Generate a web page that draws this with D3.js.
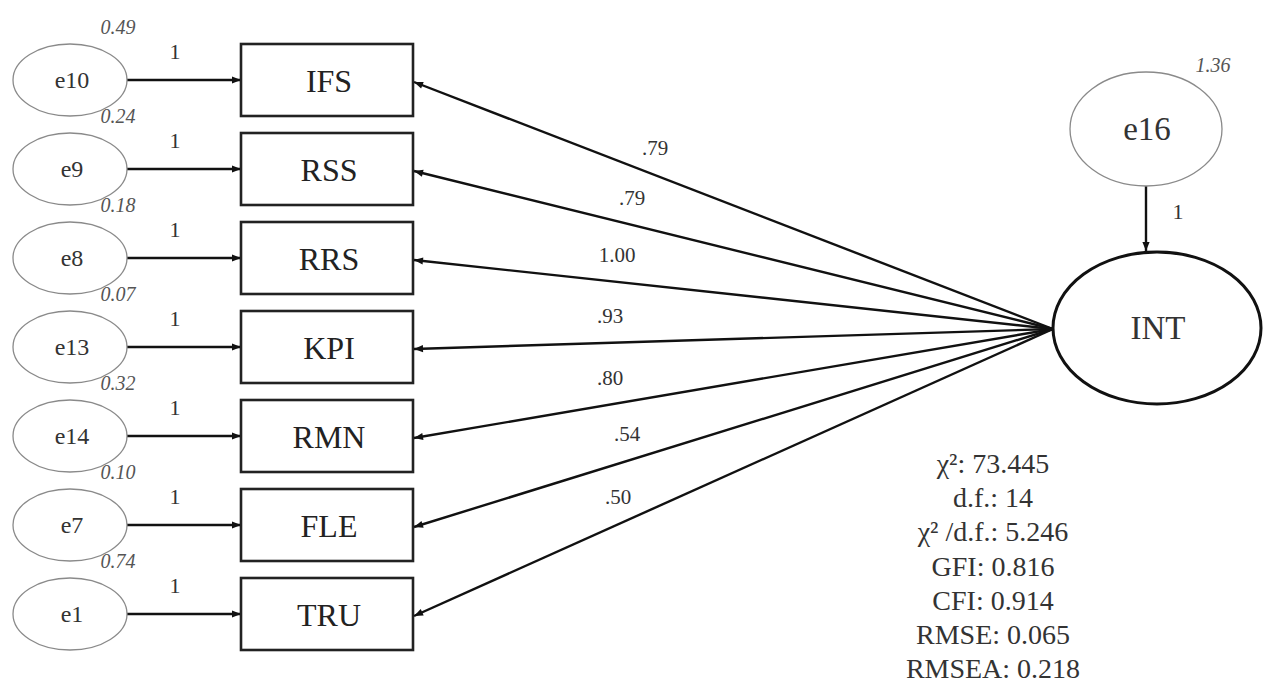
<!DOCTYPE html>
<html><head><meta charset="utf-8">
<script src="https://cdn.jsdelivr.net/npm/d3@7/dist/d3.min.js"></script>
<style>
html,body{margin:0;padding:0;background:#fff;}
svg{display:block;}
svg text{font-family:"Liberation Serif",serif;}
</style></head>
<body><svg id="c" width="1263" height="691"></svg>
<script>
// ---- data ----
const indicators = ["IFS","RSS","RRS","KPI","RMN","FLE","TRU"];
const errorNames = ["e10","e9","e8","e13","e14","e7","e1"];
const errorVariances = ["0.49","0.24","0.18","0.07","0.32","0.10","0.74"];
const errorPaths = ["1","1","1","1","1","1","1"];
const loadings = [".79",".79","1.00",".93",".80",".54",".50"];
const latentName = "INT";
const latentError = "e16";
const latentErrorVariance = "1.36";
const latentErrorPath = "1";
const fitStats = ["χ²: 73.445","d.f.: 14","χ² /d.f.: 5.246","GFI: 0.816","CFI: 0.914","RMSE: 0.065","RMSEA: 0.218"];

// ---- layout ----
const FONT = "Liberation Serif";
const svg = d3.select("#c");
const y = d3.scalePoint().domain(indicators).range([80, 614]);
const boxX0 = 241, boxW = 172, boxH = 72;
const eCx = 70, eRx = 57, eRy = 36;
const INT = {cx:1157, cy:328, rx:104, ry:76};
const E16 = {cx:1146, cy:129, rx:76, ry:57};

const defs = svg.append("defs");
defs.append("marker").attr("id","ah").attr("viewBox","0 -5 10 10")
  .attr("refX",10).attr("refY",0).attr("markerWidth",11).attr("markerHeight",9)
  .attr("markerUnits","userSpaceOnUse").attr("orient","auto")
  .append("path").attr("d","M0,-4L10,0L0,4Z").attr("fill","#111");

function txt(sel){ return sel.attr("font-family",FONT); }

// error -> indicator arrows
svg.selectAll("line.err").data(indicators).join("line")
  .attr("x1", eCx+eRx).attr("y1", d=>y(d))
  .attr("x2", boxX0).attr("y2", d=>y(d))
  .attr("stroke","#111").attr("stroke-width",2.4).attr("marker-end","url(#ah)");

// error ellipses
const eg = svg.selectAll("g.err").data(indicators).join("g");
eg.append("ellipse").attr("cx",eCx).attr("cy",d=>y(d)).attr("rx",eRx).attr("ry",eRy)
  .attr("fill","#fff").attr("stroke","#8a8a8a").attr("stroke-width",1.3);
txt(eg.append("text")).attr("x",eCx+2).attr("y",d=>y(d)+8).attr("text-anchor","middle")
  .attr("font-size",24).attr("fill","#333").text((d,i)=>errorNames[i]);
txt(eg.append("text")).attr("x",eCx+48).attr("y",d=>y(d)-46).attr("text-anchor","middle")
  .attr("font-size",20).attr("font-style","italic").attr("fill","#555").text((d,i)=>errorVariances[i]);
txt(eg.append("text")).attr("x",175).attr("y",d=>y(d)-21).attr("text-anchor","middle")
  .attr("font-size",22).attr("fill","#333").text((d,i)=>errorPaths[i]);

// boxes
svg.selectAll("rect.box").data(indicators).join("rect")
  .attr("x",boxX0).attr("y",d=>y(d)-boxH/2).attr("width",boxW).attr("height",boxH)
  .attr("fill","#fff").attr("stroke","#222").attr("stroke-width",2.6);
txt(svg.selectAll("text.box").data(indicators).join("text"))
  .attr("x",boxX0+boxW/2+2).attr("y",d=>y(d)+12).attr("text-anchor","middle")
  .attr("font-size",32).attr("fill","#222").text(d=>d);

// loading lines INT -> indicators
const sx = INT.cx-INT.rx, sy = INT.cy+1;
const ex = boxX0+boxW+1;
svg.selectAll("line.load").data(indicators).join("line")
  .attr("x1",sx).attr("y1",sy).attr("x2",ex).attr("y2",d=>y(d)+2)
  .attr("stroke","#111").attr("stroke-width",2.4).attr("marker-end","url(#ah)");
const labelX = [655,632,617,610,610,627,618];
txt(svg.selectAll("text.load").data(indicators).join("text"))
  .attr("x",(d,i)=>labelX[i])
  .attr("y",(d,i)=>{const yy=y(d)+2; const t=(labelX[i]-ex)/(sx-ex); return yy+(sy-yy)*t-20;})
  .attr("text-anchor","middle").attr("font-size",21).attr("fill","#333")
  .text((d,i)=>loadings[i]);

// e16 -> INT
svg.append("line").attr("x1",E16.cx).attr("y1",E16.cy+E16.ry)
  .attr("x2",E16.cx).attr("y2",INT.cy-INT.ry-1)
  .attr("stroke","#111").attr("stroke-width",2.4).attr("marker-end","url(#ah)");
svg.append("ellipse").attr("cx",E16.cx).attr("cy",E16.cy).attr("rx",E16.rx).attr("ry",E16.ry)
  .attr("fill","#fff").attr("stroke","#8a8a8a").attr("stroke-width",1.3);
txt(svg.append("text")).attr("x",E16.cx+1).attr("y",E16.cy+11).attr("text-anchor","middle")
  .attr("font-size",33).attr("fill","#333").text(latentError);
txt(svg.append("text")).attr("x",1213).attr("y",72).attr("text-anchor","middle")
  .attr("font-size",20).attr("font-style","italic").attr("fill","#555").text(latentErrorVariance);
txt(svg.append("text")).attr("x",1178).attr("y",219).attr("text-anchor","middle")
  .attr("font-size",22).attr("fill","#333").text(latentErrorPath);

// INT
svg.append("ellipse").attr("cx",INT.cx).attr("cy",INT.cy).attr("rx",INT.rx).attr("ry",INT.ry)
  .attr("fill","#fff").attr("stroke","#111").attr("stroke-width",3);
txt(svg.append("text")).attr("x",INT.cx+1).attr("y",INT.cy+11).attr("text-anchor","middle")
  .attr("font-size",33).attr("fill","#333").text(latentName);

// fit statistics
txt(svg.append("g").selectAll("text").data(fitStats).join("text"))
  .attr("x",993).attr("y",(d,i)=>473+i*34.2).attr("text-anchor","middle")
  .attr("font-size",28).attr("fill","#333").text(d=>d);
</script></body></html>
